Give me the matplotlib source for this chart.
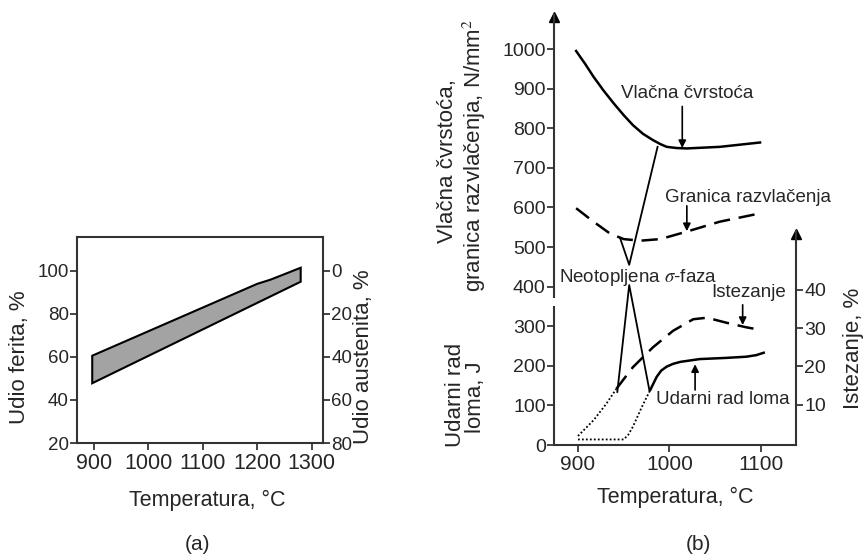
import numpy as np
import matplotlib
matplotlib.use("Agg")
import matplotlib.pyplot as plt

plt.rcParams['font.family'] = ['Liberation Sans', 'DejaVu Sans']
plt.rcParams['mathtext.fontset'] = 'stix'
INK = '#262626'

# ---- panel (a): ferrite share vs temperature (band)
band_upper_t = [897, 1200, 1225, 1280]
band_upper_v = [60.6, 94, 96, 101.5]
band_lower_t = [897, 1280]
band_lower_v = [47.8, 95]
a_xticks = [900, 1000, 1100, 1200, 1300]
a_yticks = [20, 40, 60, 80, 100]
a_rticks = [0, 20, 40, 60, 80]

# ---- panel (b): mechanical properties vs temperature
uts_t = [898, 908, 917, 928, 939, 950, 960, 971, 982, 990, 997, 1008, 1019, 1055, 1099]
uts_v = [995, 962, 930, 895, 863, 833, 808, 786, 770, 760, 753, 750, 749, 753, 764]
ys_t = [898, 917, 935, 950, 968, 990, 1019, 1055, 1099]
ys_v = [598, 564, 534, 520, 516, 520, 539, 564, 585]
elong_t = [942, 960, 982, 1004, 1026, 1041, 1062, 1084, 1100]
elong_v = [14.2, 19.8, 25.0, 29.3, 32.3, 32.7, 31.4, 30.2, 29.5]
elong_dot_t = [900, 917, 931, 942]
elong_dot_v = [1.9, 6.0, 10.3, 14.2]
impact_t = [979, 986, 991, 997, 1004, 1012, 1033, 1062, 1084, 1095, 1103]
impact_v = [139, 172, 188, 198, 205, 210, 217, 220, 223, 227, 233]
impact_dot_t = [900, 950, 955, 960, 970, 979]
impact_dot_v = [14, 14, 26, 46, 97, 139]
sigma_up_t = [946, 956, 987]
sigma_up_v = [523, 455, 753]
sigma_lo_t = [943, 956, 978]
sigma_lo_v = [134, 404, 139]
b_xticks = [900, 1000, 1100]
b_yticks = [0, 100, 200, 300, 400, 500, 600, 700, 800, 900, 1000]
b_rticks = [10, 20, 30, 40]

W, H = 865, 558
fig = plt.figure(figsize=(W / 100, H / 100), dpi=100)


def px_axes(x0, y0, x1, y1):
    return fig.add_axes([x0 / W, 1 - y1 / H, (x1 - x0) / W, (y1 - y0) / H])


# ================= (a)
ax = px_axes(77, 237, 323, 443)
ax.set_xlim(869, 1321)
ax.set_ylim(20, 115.8)
poly_t = np.concatenate([band_upper_t, band_lower_t[::-1]])
poly_v = np.concatenate([band_upper_v, band_lower_v[::-1]])
ax.fill(poly_t, poly_v, facecolor='#a3a3a3', edgecolor='black', lw=1.5)
ax.set_xticks(a_xticks)
ax.set_yticks(a_yticks)
ax.tick_params(axis='x', labelsize=15.5, colors=INK, length=5, width=1.2, pad=2)
ax.tick_params(axis='y', labelsize=13.5, colors=INK, length=5, width=1.2, pad=1)
for s in ax.spines.values():
    s.set_linewidth(1.5)
    s.set_color('#333333')

axr = ax.twinx()
axr.set_ylim(100 - 20, 100 - 115.8)
axr.set_yticks(a_rticks)
axr.tick_params(axis='y', labelsize=13.5, colors=INK, length=5, width=1.2, pad=1)
for s in axr.spines.values():
    s.set_visible(False)

fig.text(20 / W, 1 - 357 / H, 'Udio ferita, %', rotation=90, ha='center', va='center',
         fontsize=16, color=INK)
fig.text(364 / W, 1 - 357 / H, 'Udio austenita, %', rotation=90, ha='center', va='center',
         fontsize=16, color=INK)
fig.text(207 / W, 1 - 500 / H, 'Temperatura, °C', ha='center', va='center',
         fontsize=15.5, color=INK)
fig.text(197 / W, 1 - 545 / H, '(a)', ha='center', va='center', fontsize=15, color=INK)

# ================= (b)
x0, x1 = 873.8, 1138.3
bx = px_axes(554, 15, 796, 445)
bx.set_xlim(x0, x1)
bx.set_ylim(0, 1086)
bx.plot(uts_t, uts_v, color='black', lw=1.8)
bx.plot(ys_t, ys_v, color='black', lw=1.8, dashes=(6.5, 3.5))
bx.plot(impact_t, impact_v, color='black', lw=1.8)
bx.plot(impact_dot_t, impact_dot_v, color='black', lw=1.3, ls=(0, (1, 1.2)))
bx.plot(sigma_up_t, sigma_up_v, color='black', lw=1.3)
bx.plot(sigma_lo_t, sigma_lo_v, color='black', lw=1.3)

bx.set_xticks(b_xticks)
bx.set_yticks(b_yticks)
bx.tick_params(axis='x', labelsize=15, colors=INK, length=5, width=1.2, pad=2)
bx.tick_params(axis='y', labelsize=14, colors=INK, length=5, width=1.2, pad=1)
bx.spines['top'].set_visible(False)
bx.spines['right'].set_visible(False)
bx.spines['left'].set_bounds(374, 1086)
for s in bx.spines.values():
    s.set_linewidth(1.5)
    s.set_color('#333333')
bx.axvline(x0, 0, 348 / 1086, color='#333333', lw=1.5, clip_on=False)
bx.plot([x0], [1080], marker='^', ms=7, color='black', clip_on=False)

rx = bx.twinx()
rx.set_ylim(-0.44, 111.5)
rx.plot(elong_t, elong_v, color='black', lw=1.8, dashes=(6.5, 3.5))
rx.plot(elong_dot_t, elong_dot_v, color='black', lw=1.3, ls=(0, (1, 1.2)))
rx.set_yticks(b_rticks)
rx.tick_params(axis='y', labelsize=14, colors=INK, length=5, width=1.2, pad=1)
for k in ('top', 'left', 'bottom'):
    rx.spines[k].set_visible(False)
rx.spines['right'].set_bounds(-0.44, 55.2)
rx.spines['right'].set_linewidth(1.5)
rx.spines['right'].set_color('#333333')
rx.plot([x1], [54.5], marker='^', ms=7, color='black', clip_on=False)

arrow = dict(arrowstyle='-|>', color='black', lw=1.2, mutation_scale=11,
             shrinkA=0, shrinkB=0)
fs = 13.5
bx.text(1019, 889, 'Vlačna čvrstoća', ha='center', va='center', fontsize=fs, color=INK)
bx.annotate('', xy=(1014, 750), xytext=(1014, 855), arrowprops=arrow)
bx.text(1086, 626, 'Granica razvlačenja', ha='center', va='center', fontsize=fs, color=INK)
bx.annotate('', xy=(1019, 540), xytext=(1019, 604), arrowprops=arrow)
bx.text(966, 424, r'Neotopljena $\sigma$-faza', ha='center', va='center', fontsize=fs,
        color=INK)
bx.text(1087, 384, 'Istezanje', ha='center', va='center', fontsize=fs, color=INK)
bx.annotate('', xy=(1080, 303), xytext=(1080, 354), arrowprops=arrow)
bx.text(1058, 114, 'Udarni rad loma', ha='center', va='center', fontsize=fs, color=INK)
bx.annotate('', xy=(1028, 204), xytext=(1028, 139), arrowprops=arrow)

fig.text(447 / W, 1 - 161 / H, 'Vlačna čvrstoća,', rotation=90, ha='center', va='center',
         fontsize=16, color=INK)
fig.text(474 / W, 1 - 155 / H, 'granica razvlačenja, N/mm$^2$', rotation=90, ha='center',
         va='center', fontsize=16, color=INK)
fig.text(456 / W, 1 - 395 / H, 'Udarni rad', rotation=90, ha='center', va='center',
         fontsize=16, color=INK)
fig.text(476 / W, 1 - 397 / H, 'loma, J', rotation=90, ha='center', va='center',
         fontsize=16, color=INK)
fig.text(854 / W, 1 - 348 / H, 'Istezanje, %', rotation=90, ha='center', va='center',
         fontsize=16, color=INK)
fig.text(675 / W, 1 - 497 / H, 'Temperatura, °C', ha='center', va='center',
         fontsize=15.5, color=INK)
fig.text(698 / W, 1 - 545 / H, '(b)', ha='center', va='center', fontsize=15, color=INK)

fig.savefig('out.png', dpi=100)
